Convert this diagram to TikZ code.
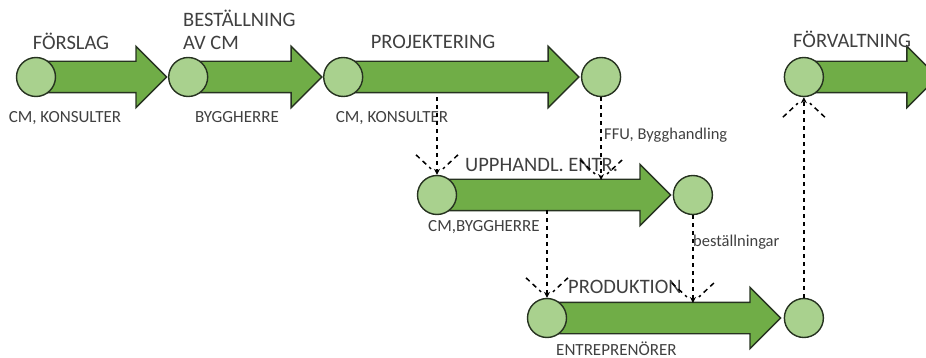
\documentclass[tikz,border=0pt]{standalone}
\usepackage{fontspec}
\setmainfont{Carlito}
\usetikzlibrary{arrows.meta,shapes.arrows,positioning,calc}
\definecolor{PhaseGreen}{RGB}{112,173, 71}
\definecolor{NodeGreen} {RGB}{169,209,142}
\definecolor{EdgeDark}  {RGB}{ 38, 50, 32}
\definecolor{TextGray}  {RGB}{ 64, 64, 64}
\tikzset{
  %% fasernas pilar och milstolpar
  phase/.style={single arrow,draw=EdgeDark,fill=PhaseGreen,line width=1.4pt,
                minimum width=60pt,single arrow head extend=15pt,
                single arrow tip angle=90,single arrow head indent=0pt,
                inner xsep=0pt,inner ysep=15pt,anchor=tail},
  milestone/.style={circle,draw=EdgeDark,fill=NodeGreen,line width=1.4pt,
                    minimum size=39pt,inner sep=0pt},
  %% texter
  phaselbl/.style={font=\fontsize{20.5}{23}\selectfont,text=TextGray,
                   inner sep=0pt,align=left},
  rolelbl/.style={font=\fontsize{17}{20}\selectfont,text=TextGray,inner sep=0pt},
  notelbl/.style={font=\fontsize{16.5}{19}\selectfont,text=TextGray,inner sep=0pt},
  %% streckade pilar
  handover/.style={-{Stealth[length=6pt,width=6pt]},line width=1.5pt,
                   dash pattern=on 4pt off 4pt},
  burst/.style={line width=1.5pt,dash pattern=on 5pt off 4pt},
}
\begin{document}
\begin{tikzpicture}[x=1pt,y=1pt]
  \useasboundingbox (0,0) rectangle (926,-358);

  %% rad 1
  \node[phase,minimum height=130pt] (p1) at (36,-77) {};
  \node[milestone] (c1) at (36,-77) {};
  \path (p1.tip) ++(20.5,0) coordinate (m2) ++(155,0) coordinate (m3);
  \node[phase,minimum height=133pt] (p2) at (m2) {};
  \node[milestone] (c2) at (m2) {};
  \node[phase,minimum height=235pt] (p3) at (m3) {};
  \node[milestone] (c3) at (m3) {};
  \node[milestone,right=1pt of p3.tip] (c4) {};

  %% rad 2
  \node[phase,minimum height=233pt] (p5) at (437,-195) {};
  \node[milestone] (c5) at (437,-195) {};
  \node[milestone,right=1pt of p5.tip] (c6) {};

  %% rad 3
  \node[phase,minimum height=233pt] (p7) at (547,-318) {};
  \node[milestone] (c7) at (547,-318) {};
  \node[milestone,right=2pt of p7.tip] (c8) {};

  %% förvaltning
  \node[phase,minimum height=133pt] (p9) at (c8 |- c1) {};
  \node[milestone] (c9) at (c8 |- c1) {};

  %% etiketter
  \node[phaselbl,anchor=base] (l1) at (71,-50) {FÖRSLAG};
  \node[rolelbl,anchor=base] (r1) at (65,-123) {CM, KONSULTER};
  \node[phaselbl,anchor=base west] (l2) at (183,-50) {BESTÄLLNING\\AV CM};
  \node[rolelbl,anchor=base] (r2) at (237,-123) {BYGGHERRE};
  \node[phaselbl,anchor=base] (l3) at (433,-49) {PROJEKTERING};
  \node[rolelbl,anchor=base] (r3) at (392,-123) {CM, KONSULTER};
  \node[notelbl,anchor=base west] (n4) at (604,-140) {FFU, Bygghandling};
  \node[phaselbl,anchor=base west] (l5) at (465,-172) {UPPHANDL. ENTR.};
  \node[rolelbl,anchor=base west] (r5) at (428,-232) {CM,BYGGHERRE};
  \node[notelbl,anchor=base west] (n6) at (693,-247) {beställningar};
  \node[phaselbl,anchor=base west] (l7) at (568,-293) {PRODUKTION};
  \node[rolelbl,anchor=base west] (r7) at (556,-355) {ENTREPRENÖRER};
  \node[phaselbl,anchor=base west] (l9) at (793,-48) {FÖRVALTNING};

  %% överlämningar
  \coordinate (s1) at (c5 |- c3.south);
  \coordinate (t2) at ($(c4 |- c5)+(0,15)$);
  \coordinate (s3) at ($(c7 |- c5)+(0,-15)$);
  \coordinate (t4) at ($(c6 |- c7)+(0,15)$);
  \draw[handover] (s1) -- (c5.north);
  \draw[handover] (c4.south) -- (t2);
  \draw[handover] (s3) -- (c7.north);
  \draw[handover] (c6.south) -- (t4);
  \draw[handover] (c8.north) -- (c9.south);
  \foreach \t/\s in {c5.north/1,t2/1,c7.north/1,t4/1,c9.south/-1}{
    \draw[burst] ($(\t)+(-21,20*\s)$) -- ($(\t)+(-6,6*\s)$);
    \draw[burst] ($(\t)+(21,20*\s)$) -- ($(\t)+(6,6*\s)$);
  }
\end{tikzpicture}
\end{document}
